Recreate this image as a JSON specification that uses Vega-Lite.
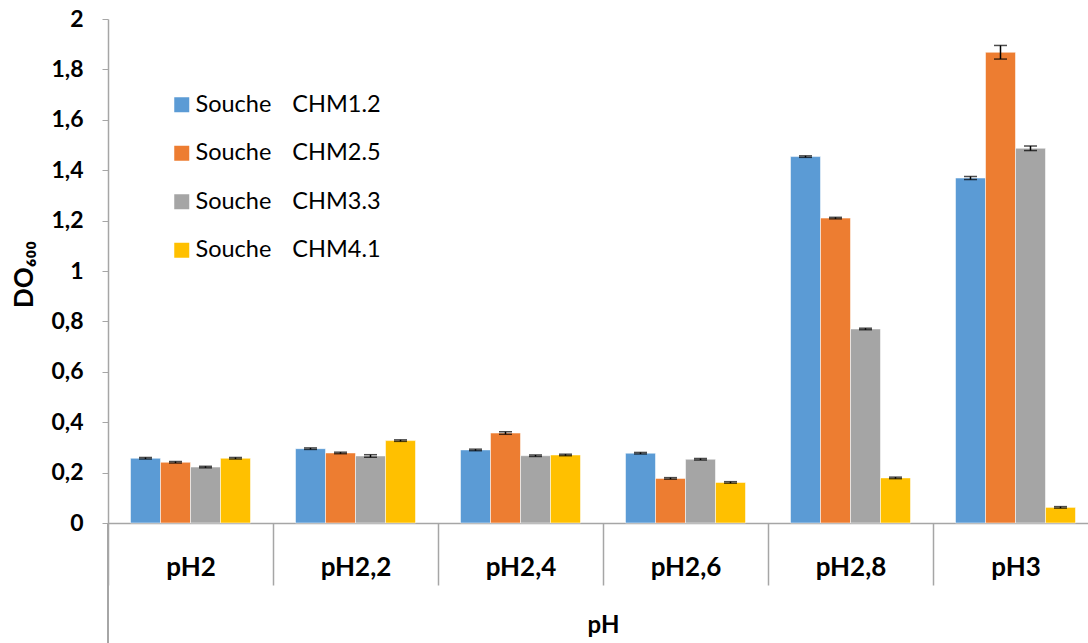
{
  "$schema": "https://vega.github.io/schema/vega-lite/v6.json",
  "autosize": {"type": "none"},
  "padding": {"left": 108, "top": 19, "right": 0, "bottom": 124},
  "width": 990,
  "height": 504,
  "background": "white",
  "config": {
    "view": {"stroke": null},
    "font": "Lato",
    "axisY": {
      "values": [0, 0.04, 0.08, 0.12, 0.16, 0.2, 0.24, 0.28, 0.32, 0.36, 0.4, 0.44, 0.48, 0.52, 0.56, 0.6, 0.64, 0.68, 0.72, 0.76, 0.8, 0.84, 0.88, 0.92, 0.96, 1, 1.04, 1.08, 1.12, 1.16, 1.2, 1.24, 1.28, 1.32, 1.36, 1.4, 1.44, 1.48, 1.52, 1.56, 1.6, 1.64, 1.68, 1.72, 1.76, 1.8, 1.84, 1.88, 1.92, 1.96, 2],
      "labelExpr": "(round(datum.value*25) % 5 == 0) ? replace(format(datum.value, '.2~f'), '.', ',') : ''",
      "labelOverlap": false,
      "labelBound": false,
      "labelFlush": false,
      "grid": false,
      "labelFont": "Lato",
      "labelFontWeight": "bold",
      "labelFontSize": 23,
      "labelColor": "#000000",
      "labelPadding": 19,
      "tickSize": 6,
      "tickColor": "#a6a6a6",
      "tickWidth": 1,
      "domainColor": "#a6a6a6",
      "domainWidth": 1.5,
      "titleFont": "Lato",
      "titleFontWeight": "bold",
      "titleFontSize": 26,
      "titleColor": "#000000",
      "titleAngle": 270,
      "titleBaseline": "middle",
      "titleAlign": "center",
      "titleX": -84,
      "titleY": 255
    }
  },
  "data": {
    "values": [
      {"pH": "pH2", "souche": "CHM1.2", "value": 0.257, "lo": 0.254, "hi": 0.260},
      {"pH": "pH2", "souche": "CHM2.5", "value": 0.241, "lo": 0.238, "hi": 0.244},
      {"pH": "pH2", "souche": "CHM3.3", "value": 0.222, "lo": 0.219, "hi": 0.225},
      {"pH": "pH2", "souche": "CHM4.1", "value": 0.257, "lo": 0.254, "hi": 0.260},
      {"pH": "pH2,2", "souche": "CHM1.2", "value": 0.295, "lo": 0.292, "hi": 0.298},
      {"pH": "pH2,2", "souche": "CHM2.5", "value": 0.278, "lo": 0.275, "hi": 0.281},
      {"pH": "pH2,2", "souche": "CHM3.3", "value": 0.266, "lo": 0.261, "hi": 0.271},
      {"pH": "pH2,2", "souche": "CHM4.1", "value": 0.327, "lo": 0.324, "hi": 0.330},
      {"pH": "pH2,4", "souche": "CHM1.2", "value": 0.290, "lo": 0.287, "hi": 0.293},
      {"pH": "pH2,4", "souche": "CHM2.5", "value": 0.357, "lo": 0.352, "hi": 0.362},
      {"pH": "pH2,4", "souche": "CHM3.3", "value": 0.267, "lo": 0.264, "hi": 0.270},
      {"pH": "pH2,4", "souche": "CHM4.1", "value": 0.270, "lo": 0.267, "hi": 0.273},
      {"pH": "pH2,6", "souche": "CHM1.2", "value": 0.277, "lo": 0.274, "hi": 0.280},
      {"pH": "pH2,6", "souche": "CHM2.5", "value": 0.177, "lo": 0.174, "hi": 0.180},
      {"pH": "pH2,6", "souche": "CHM3.3", "value": 0.253, "lo": 0.250, "hi": 0.256},
      {"pH": "pH2,6", "souche": "CHM4.1", "value": 0.161, "lo": 0.158, "hi": 0.164},
      {"pH": "pH2,8", "souche": "CHM1.2", "value": 1.454, "lo": 1.451, "hi": 1.457},
      {"pH": "pH2,8", "souche": "CHM2.5", "value": 1.210, "lo": 1.207, "hi": 1.213},
      {"pH": "pH2,8", "souche": "CHM3.3", "value": 0.770, "lo": 0.767, "hi": 0.773},
      {"pH": "pH2,8", "souche": "CHM4.1", "value": 0.179, "lo": 0.176, "hi": 0.182},
      {"pH": "pH3", "souche": "CHM1.2", "value": 1.369, "lo": 1.363, "hi": 1.375},
      {"pH": "pH3", "souche": "CHM2.5", "value": 1.868, "lo": 1.841, "hi": 1.895},
      {"pH": "pH3", "souche": "CHM3.3", "value": 1.487, "lo": 1.478, "hi": 1.496},
      {"pH": "pH3", "souche": "CHM4.1", "value": 0.062, "lo": 0.059, "hi": 0.065}
    ]
  },
  "encoding": {
    "x": {
      "field": "pH",
      "type": "nominal",
      "sort": null,
      "scale": {"paddingInner": 0, "paddingOuter": 0},
      "axis": {
        "title": "pH",
        "labelAngle": 0,
        "labelFont": "Lato",
        "labelFontWeight": "bold",
        "labelFontSize": 26,
        "labelColor": "#000000",
        "labelBaseline": "alphabetic",
        "labelPadding": -10,
        "tickBand": "extent",
        "tickSize": 62,
        "tickColor": "#a6a6a6",
        "tickWidth": 1.5,
        "domainColor": "#a6a6a6",
        "domainWidth": 1.5,
        "titleFont": "Lato",
        "titleFontWeight": "bold",
        "titleFontSize": 24,
        "titleColor": "#000000",
        "titleBaseline": "alphabetic",
        "titleY": 109
      }
    }
  },
  "layer": [
    {
      "mark": {"type": "bar", "stroke": "white", "strokeWidth": 0.75, "strokeOpacity": 0.7},
      "encoding": {
        "xOffset": {"field": "souche", "type": "nominal", "scale": {"paddingInner": 0, "paddingOuter": 0.75}},
        "y": {
          "field": "value",
          "type": "quantitative",
          "title": "DO₆₀₀",
          "scale": {"domain": [0, 2], "nice": false, "zero": true}
        },
        "color": {
          "field": "souche",
          "type": "nominal",
          "scale": {
            "domain": ["CHM1.2", "CHM2.5", "CHM3.3", "CHM4.1"],
            "range": ["#5B9BD5", "#ED7D31", "#A5A5A5", "#FFC000"]
          },
          "legend": {
            "title": null,
            "orient": "none",
            "legendX": 62,
            "legendY": 74,
            "padding": 0,
            "symbolType": "square",
            "symbolSize": 225,
            "symbolStrokeWidth": 0,
            "symbolOpacity": 1,
            "labelFont": "Lato",
            "labelFontSize": 23.5,
            "labelColor": "#000000",
            "labelOffset": 2,
            "rowPadding": 23.5,
            "labelLimit": 400,
            "labelExpr": "'Souche\u00a0\u00a0\u00a0\u2009' + datum.label"
          }
        }
      }
    },
    {
      "mark": {"type": "rule", "color": "#000000", "strokeWidth": 1.5},
      "encoding": {
        "xOffset": {"field": "souche", "type": "nominal", "scale": {"paddingInner": 0, "paddingOuter": 0.75}},
        "y": {"field": "lo", "type": "quantitative", "title": "DO₆₀₀", "scale": {"domain": [0, 2], "nice": false}},
        "y2": {"field": "hi"}
      }
    },
    {
      "mark": {"type": "tick", "color": "#000000", "size": 13, "thickness": 1.5},
      "encoding": {
        "xOffset": {"field": "souche", "type": "nominal", "scale": {"paddingInner": 0, "paddingOuter": 0.75}},
        "y": {"field": "lo", "type": "quantitative", "title": "DO₆₀₀", "scale": {"domain": [0, 2], "nice": false}}
      }
    },
    {
      "mark": {"type": "tick", "color": "#000000", "size": 13, "thickness": 1.5},
      "encoding": {
        "xOffset": {"field": "souche", "type": "nominal", "scale": {"paddingInner": 0, "paddingOuter": 0.75}},
        "y": {"field": "hi", "type": "quantitative", "title": "DO₆₀₀", "scale": {"domain": [0, 2], "nice": false}}
      }
    },
    {
      "mark": {"type": "rule", "color": "#a6a6a6", "strokeWidth": 1.5},
      "encoding": {
        "x": {"datum": "pH2", "bandPosition": 0},
        "y": {"datum": 0, "type": "quantitative", "title": "DO₆₀₀", "scale": {"domain": [0, 2], "nice": false}},
        "y2": {"datum": -0.48}
      }
    }
  ]
}
